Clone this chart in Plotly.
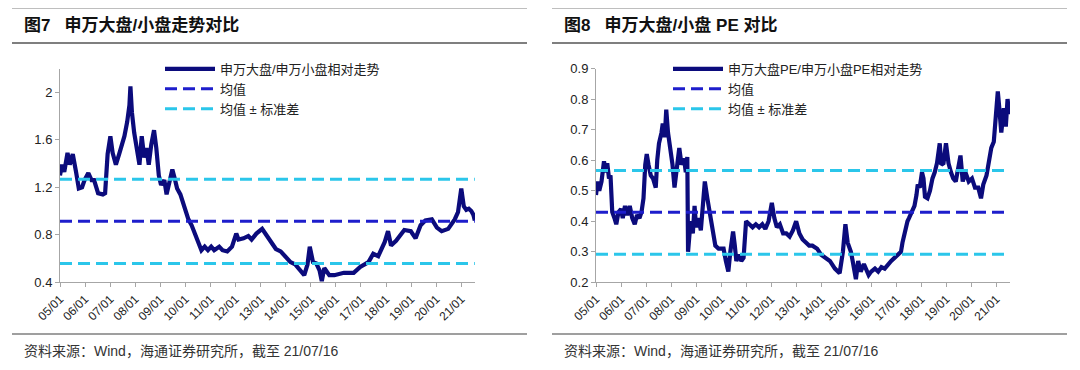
import plotly.graph_objects as go
import pandas as pd

# ---------------- data (decimal years) ----------------
left_t = [2005.00, 2005.08, 2005.17, 2005.30, 2005.39, 2005.51, 2005.64, 2005.75, 2005.88, 2005.98,
          2006.13, 2006.26, 2006.36, 2006.52, 2006.71, 2006.80, 2006.90, 2007.01, 2007.10, 2007.23,
          2007.36, 2007.48, 2007.57, 2007.68, 2007.77, 2007.81, 2007.87, 2007.96, 2008.06, 2008.17,
          2008.26, 2008.36, 2008.45, 2008.54, 2008.64, 2008.75, 2008.84, 2008.94, 2009.03, 2009.16,
          2009.25, 2009.35, 2009.48, 2009.58, 2009.67, 2009.80, 2009.93, 2010.06, 2010.12, 2010.25,
          2010.38, 2010.51, 2010.64, 2010.77, 2010.90, 2011.03, 2011.15, 2011.35, 2011.48, 2011.67,
          2011.86, 2012.03, 2012.12, 2012.32, 2012.51, 2012.64, 2012.83, 2012.96, 2013.06, 2013.22,
          2013.41, 2013.61, 2013.80, 2014.00, 2014.19, 2014.38, 2014.58, 2014.74, 2014.87, 2014.96,
          2015.09, 2015.22, 2015.35, 2015.44, 2015.54, 2015.74, 2015.94, 2016.32, 2016.71, 2016.97,
          2017.30, 2017.49, 2017.69, 2017.95, 2018.08, 2018.20, 2018.40, 2018.73, 2018.99, 2019.18,
          2019.38, 2019.57, 2019.83, 2020.03, 2020.22, 2020.48, 2020.74, 2020.87, 2021.00, 2021.10,
          2021.20, 2021.30, 2021.40, 2021.48, 2021.54]
left_v = [1.30, 1.39, 1.33, 1.49, 1.39, 1.48, 1.33, 1.19, 1.20, 1.26,
          1.32, 1.26, 1.26, 1.15, 1.14, 1.15, 1.48, 1.63, 1.49, 1.39,
          1.48, 1.56, 1.63, 1.75, 1.89, 2.05, 1.83, 1.66, 1.52, 1.39,
          1.63, 1.45, 1.53, 1.39, 1.56, 1.68, 1.53, 1.30, 1.22, 1.26,
          1.14, 1.25, 1.35, 1.27, 1.19, 1.14, 1.05, 0.95, 0.93, 0.88,
          0.80, 0.74, 0.67, 0.70, 0.67, 0.70, 0.67, 0.70, 0.67, 0.66,
          0.70, 0.81, 0.76, 0.77, 0.79, 0.76, 0.81, 0.83, 0.85, 0.80,
          0.74, 0.68, 0.66, 0.62, 0.57, 0.55, 0.50, 0.46, 0.55, 0.70,
          0.57, 0.56, 0.50, 0.41, 0.52, 0.46, 0.46, 0.48, 0.48, 0.53,
          0.57, 0.64, 0.62, 0.74, 0.83, 0.71, 0.75, 0.84, 0.83, 0.77,
          0.88, 0.92, 0.93, 0.86, 0.83, 0.85, 0.93, 0.99, 1.19, 1.04,
          1.01, 1.02, 1.00, 0.97, 0.92]
left_mean = 0.913
left_std = 0.355

right_t = [2005.00, 2005.06, 2005.13, 2005.22, 2005.32, 2005.39, 2005.45, 2005.52, 2005.58, 2005.65,
           2005.74, 2005.81, 2005.90, 2006.00, 2006.07, 2006.16, 2006.25, 2006.35, 2006.45, 2006.55,
           2006.64, 2006.74, 2006.82, 2006.90, 2006.97, 2007.03, 2007.10, 2007.19, 2007.28, 2007.39,
           2007.45, 2007.52, 2007.62, 2007.67, 2007.75, 2007.81, 2007.88, 2007.97, 2008.06, 2008.14,
           2008.23, 2008.33, 2008.42, 2008.52, 2008.59, 2008.65, 2008.68, 2008.78, 2008.87, 2008.94,
           2009.00, 2009.09, 2009.19, 2009.27, 2009.35, 2009.45, 2009.55, 2009.65, 2009.77, 2009.90,
           2010.03, 2010.10, 2010.19, 2010.29, 2010.37, 2010.48, 2010.55, 2010.61, 2010.71, 2010.81,
           2010.90, 2011.00, 2011.13, 2011.26, 2011.39, 2011.52, 2011.65, 2011.77, 2011.90, 2012.03,
           2012.13, 2012.23, 2012.35, 2012.48, 2012.61, 2012.74, 2012.87, 2013.00, 2013.13, 2013.26,
           2013.39, 2013.52, 2013.65, 2013.84, 2014.00, 2014.16, 2014.35, 2014.55, 2014.74, 2014.87,
           2014.97, 2015.06, 2015.19, 2015.26, 2015.39, 2015.48, 2015.58, 2015.71, 2015.90, 2016.00,
           2016.15, 2016.28, 2016.41, 2016.54, 2016.67, 2016.80, 2016.93, 2017.06, 2017.19, 2017.25,
           2017.38, 2017.45, 2017.51, 2017.64, 2017.73, 2017.81, 2017.86, 2017.94, 2018.03, 2018.09,
           2018.15, 2018.25, 2018.35, 2018.45, 2018.54, 2018.63, 2018.74, 2018.80, 2018.89, 2018.99,
           2019.09, 2019.19, 2019.28, 2019.38, 2019.51, 2019.57, 2019.66, 2019.77, 2019.90, 2020.03,
           2020.15, 2020.28, 2020.39, 2020.48, 2020.61, 2020.70, 2020.80, 2020.90, 2020.99, 2021.06,
           2021.12, 2021.20, 2021.30, 2021.38, 2021.45, 2021.52]
right_v = [0.486, 0.53, 0.50, 0.53, 0.596, 0.56, 0.59, 0.54, 0.55, 0.43,
           0.41, 0.39, 0.43, 0.44, 0.41, 0.45, 0.42, 0.45, 0.41, 0.39,
           0.42, 0.41, 0.43, 0.475, 0.585, 0.62, 0.585, 0.55, 0.54, 0.51,
           0.60, 0.655, 0.69, 0.72, 0.675, 0.765, 0.69, 0.64, 0.585, 0.51,
           0.57, 0.64, 0.585, 0.605, 0.56, 0.61, 0.30, 0.40, 0.36, 0.45,
           0.38, 0.41, 0.37, 0.45, 0.53, 0.475, 0.43, 0.38, 0.32, 0.31,
           0.31, 0.31, 0.27, 0.235, 0.30, 0.366, 0.32, 0.27, 0.29, 0.27,
           0.28, 0.40, 0.39, 0.38, 0.39, 0.38, 0.39, 0.375, 0.40, 0.46,
           0.41, 0.38, 0.39, 0.36, 0.36, 0.35, 0.37, 0.40, 0.36, 0.34,
           0.33, 0.32, 0.32, 0.31, 0.29, 0.28, 0.27, 0.245, 0.23, 0.30,
           0.39, 0.33, 0.30, 0.27, 0.21, 0.27, 0.235, 0.26, 0.224, 0.235,
           0.245, 0.235, 0.25, 0.245, 0.26, 0.27, 0.28, 0.29, 0.30, 0.33,
           0.38, 0.40, 0.41, 0.43, 0.45, 0.486, 0.52, 0.51, 0.56, 0.54,
           0.48, 0.475, 0.50, 0.54, 0.56, 0.59, 0.655, 0.585, 0.59, 0.655,
           0.59, 0.56, 0.54, 0.53, 0.60, 0.615, 0.53, 0.56, 0.53, 0.54,
           0.51, 0.51, 0.475, 0.52, 0.55, 0.585, 0.64, 0.66, 0.75, 0.825,
           0.77, 0.69, 0.77, 0.71, 0.80, 0.75]
right_mean = 0.429
right_std = 0.137

tick_years = list(range(2005, 2022))
tick_labels = [f"{y % 100:02d}/01" for y in tick_years]

left_title = "<b>图7   申万大盘/小盘走势对比</b>"
right_title = "<b>图8   申万大盘/小盘 PE 对比</b>"
left_names = ["申万大盘/申万小盘相对走势", "均值", "均值 ± 标准差"]
right_names = ["申万大盘PE/申万小盘PE相对走势", "均值", "均值 ± 标准差"]
source_text = "资料来源：Wind，海通证券研究所，截至 21/07/16"

# ---------------- helpers ----------------
def to_dt(t):
    out = []
    for v in t:
        y = int(v)
        start = pd.Timestamp(year=y, month=1, day=1)
        days = (pd.Timestamp(year=y + 1, month=1, day=1) - start).days
        out.append(start + pd.Timedelta(days=(v - y) * days))
    return out

X_START = pd.Timestamp("2005-01-01")
X_END = pd.Timestamp("2021-07-20")
tickvals = [pd.Timestamp(year=y, month=1, day=1) for y in tick_years]

FONT = "Liberation Sans, Arial, Noto Sans CJK SC, sans-serif"
NAVY = "#0B0B7C"
BLUE = "#1E1ECC"
CYAN = "#2BC6EA"

# the page body has an 8px margin, so the figure is sized/offset to compensate
OFF = 8
W, H = 1080 - OFF, 370 - OFF


def px(x):
    return (x - OFF) / W


def py(y):
    return 1 - (y - OFF) / H


fig = go.Figure()


def add_panel(t, v, mean, std, names, xa, ya, legend):
    dts = to_dt(t)
    fig.add_trace(go.Scatter(x=dts, y=v, mode="lines", name=names[0],
                             line=dict(color=NAVY, width=4.2),
                             xaxis=xa, yaxis=ya, legend=legend))
    ends = [dts[0], dts[-1]]
    fig.add_trace(go.Scatter(x=ends, y=[mean, mean], mode="lines", name=names[1],
                             line=dict(color=BLUE, width=3, dash="12px,6px"),
                             xaxis=xa, yaxis=ya, legend=legend))
    fig.add_trace(go.Scatter(x=ends, y=[mean + std, mean + std], mode="lines", name=names[2],
                             line=dict(color=CYAN, width=3, dash="12px,6px"),
                             xaxis=xa, yaxis=ya, legend=legend, legendgroup="sd" + legend))
    fig.add_trace(go.Scatter(x=ends, y=[mean - std, mean - std], mode="lines", name=names[2],
                             line=dict(color=CYAN, width=3, dash="12px,6px"),
                             xaxis=xa, yaxis=ya, legend=legend, legendgroup="sd" + legend,
                             showlegend=False))


add_panel(left_t, left_v, left_mean, left_std, left_names, "x", "y", "legend")
add_panel(right_t, right_v, right_mean, right_std, right_names, "x2", "y2", "legend2")

y_dom = [py(282.3), py(68.5)]
axis_common = dict(showline=True, linecolor="#A6A6A6", linewidth=1, ticks="outside",
                   ticklen=4, tickcolor="#A6A6A6", showgrid=False, zeroline=False,
                   automargin=False,
                   tickfont=dict(family=FONT, size=13, color="#222222"))
xcommon = dict(axis_common, type="date", range=[X_START, X_END], tickvals=tickvals,
               ticktext=tick_labels, tickangle=-45,
               tickfont=dict(family=FONT, size=12, color="#222222"))

legend_common = dict(xanchor="left", yanchor="top", bgcolor="rgba(0,0,0,0)",
                     font=dict(family=FONT, size=13, color="#222222"),
                     tracegroupgap=0, itemwidth=50)

fig.update_layout(
    width=W, height=H, margin=dict(l=0, r=0, t=0, b=0, autoexpand=False),
    paper_bgcolor="white", plot_bgcolor="white",
    font=dict(family=FONT, color="#222222"),
    xaxis=dict(xcommon, domain=[px(60), px(475)], anchor="y"),
    yaxis=dict(axis_common, domain=y_dom, range=[0.4, 2.2], tickvals=[0.4, 0.8, 1.2, 1.6, 2.0],
               ticktext=["0.4", "0.8", "1.2", "1.6", "2"], anchor="x"),
    xaxis2=dict(xcommon, domain=[px(596), px(1010)], anchor="y2"),
    yaxis2=dict(axis_common, domain=y_dom, range=[0.2, 0.9], dtick=0.1, tickformat=".1f",
                anchor="x2"),
    legend=dict(legend_common, x=px(160), y=py(54)),
    legend2=dict(legend_common, x=px(668), y=py(54)),
)

shapes = []
annotations = []
for x0, x1, title in [(12, 527, left_title), (552, 1067, right_title)]:
    for yy in (7.5, 43, 334):
        shapes.append(dict(type="line", xref="paper", yref="paper",
                           x0=px(x0), x1=px(x1), y0=py(yy), y1=py(yy),
                           line=dict(color="#7F7F7F", width=2 if yy != 334 else 1.5)))
    annotations.append(dict(text=title, xref="paper", yref="paper", x=px(x0 + 10),
                            y=py(25), xanchor="left", yanchor="middle", showarrow=False,
                            font=dict(family=FONT, size=17, color="#111111")))
    annotations.append(dict(text=source_text, xref="paper", yref="paper", x=px(x0 + 10),
                            y=py(351), xanchor="left", yanchor="middle", showarrow=False,
                            font=dict(family=FONT, size=14, color="#333333")))
fig.update_layout(shapes=shapes, annotations=annotations)

fig.write_html("out.html")
